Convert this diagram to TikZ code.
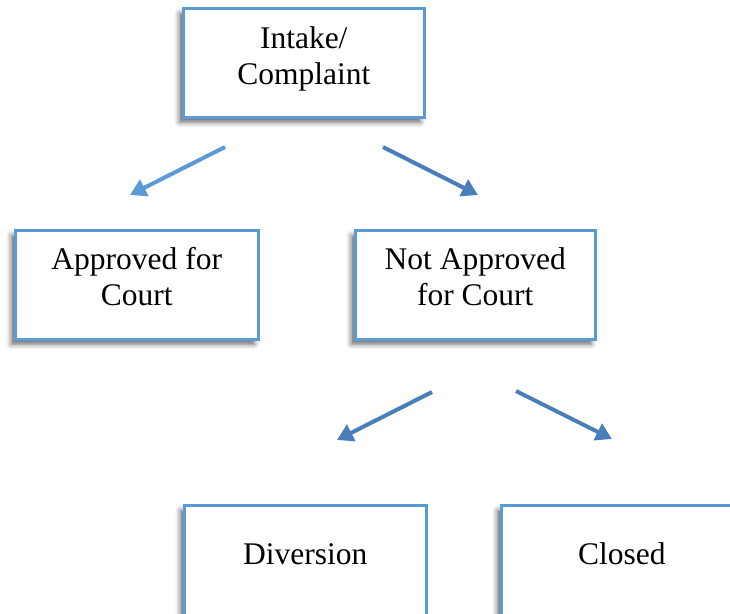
\documentclass[tikz,border=0pt]{standalone}
\usepackage{fontspec}
\setmainfont{Liberation Serif}
\usetikzlibrary{arrows.meta,shadows.blur}
\definecolor{boxblue}{HTML}{5B9BD5}
\definecolor{arrlight}{HTML}{5B9BD5}
\definecolor{arrdark}{HTML}{4A7EBB}
\tikzset{
  card/.style={draw=boxblue, line width=2.5pt, fill=white, rectangle,
    anchor=north west, inner xsep=0pt, inner ysep=0pt, align=center,
    font=\fontsize{31.5}{36}\selectfont,
    blur shadow={shadow xshift=-4pt, shadow yshift=-5pt, shadow blur radius=5pt, shadow opacity=60}},
  flow/.style={line width=4pt, -{Triangle[length=16pt,width=18pt]}},
}
\begin{document}
\begin{tikzpicture}[x=1pt,y=-1pt]
\useasboundingbox (0,0) rectangle (730,613);
\node[card, minimum width=241pt, text height=76pt, text depth=33pt] (intake) at (182,7) {Intake/\\Complaint};
\node[card, minimum width=243pt, text height=75pt, text depth=34pt] (appr) at (14,229) {Approved for\\Court};
\node[card, minimum width=240pt, text height=75pt, text depth=34pt] (notappr) at (354,229) {Not Approved\\for Court};
\node[card, minimum width=242pt, text height=59pt, text depth=64pt] (div) at (183,504) {Diversion};
\node[card, minimum width=241pt, text height=59pt, text depth=64pt] (closed) at (500,504) {Closed};
\coordinate (a1s) at (225,147);
\coordinate (a1e) at (130,195);
\coordinate (a2s) at (383,147);
\coordinate (a2e) at (478,195);
\coordinate (a3s) at (432,392);
\coordinate (a3e) at (337,440);
\coordinate (a4s) at (516,391);
\coordinate (a4e) at (612,439);
\draw[flow, draw=arrlight, fill=arrlight] (a1s) -- (a1e);
\draw[flow, draw=arrdark, fill=arrdark] (a2s) -- (a2e);
\draw[flow, draw=arrdark, fill=arrdark] (a3s) -- (a3e);
\draw[flow, draw=arrdark, fill=arrdark] (a4s) -- (a4e);
\end{tikzpicture}
\end{document}
